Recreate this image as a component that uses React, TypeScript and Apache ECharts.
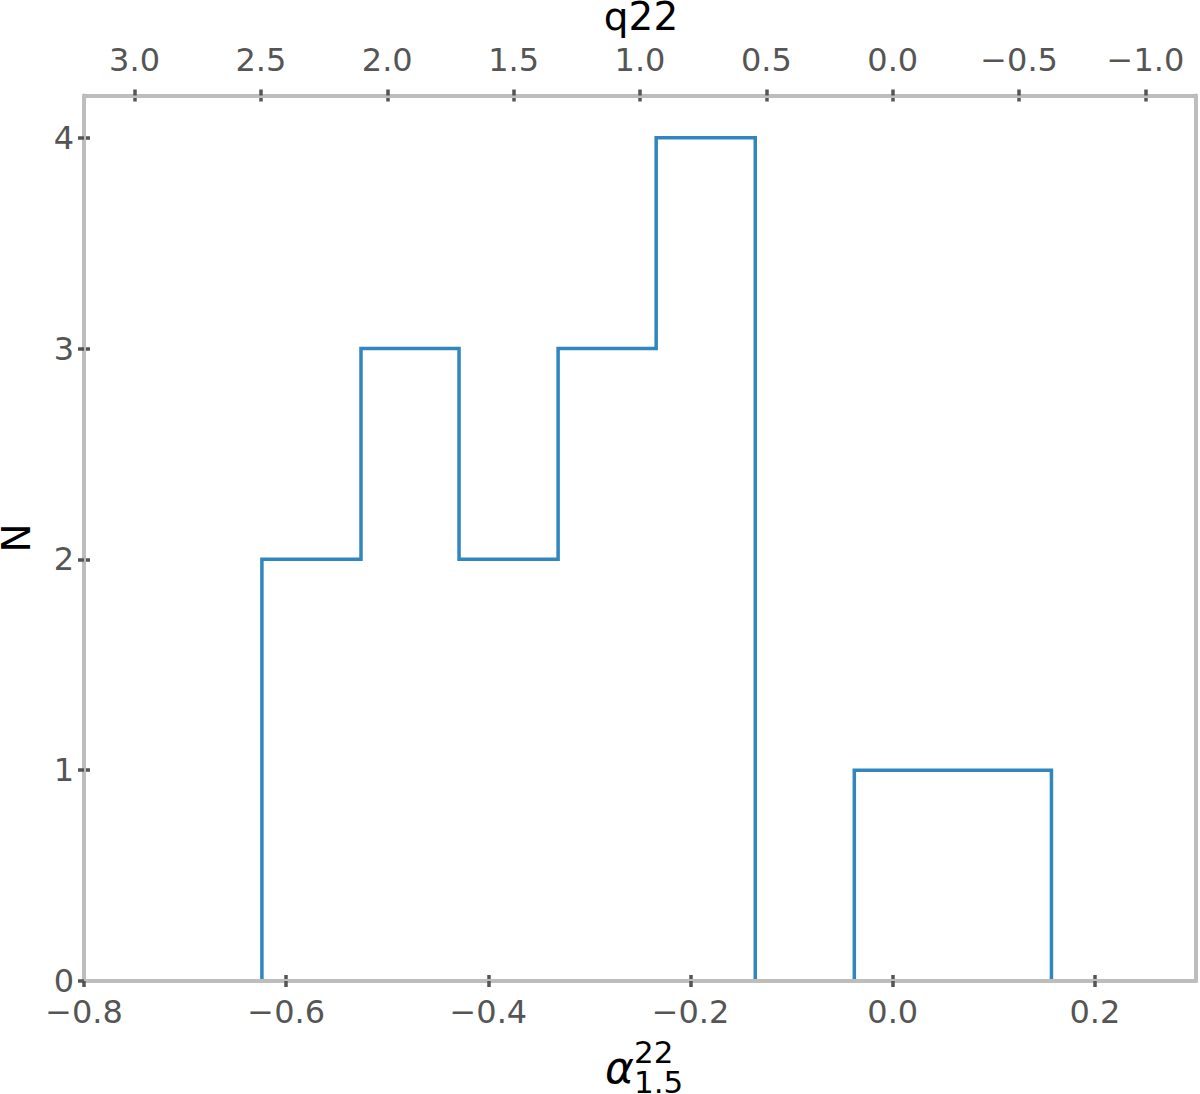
import React, { useEffect, useRef } from "react";
import * as echarts from "echarts";

// Histogram data (alpha^{22}_{1.5})
const binEdges = [-0.624, -0.526, -0.429, -0.331, -0.234, -0.136, -0.038, 0.059, 0.157];
const counts = [2, 3, 2, 3, 4, 0, 1, 1];

// Axis ticks / ranges
const alphaTicks = [-0.8, -0.6, -0.4, -0.2, 0.0, 0.2];
const qTicks = [3.0, 2.5, 2.0, 1.5, 1.0, 0.5, 0.0, -0.5, -1.0];
const nTicks = [0, 1, 2, 3, 4];
const alphaRange = [-0.8, 0.3];
const qRange = [-1.2, 3.2];
const nRange = [0, 4.2];

const FONT = "DejaVu Sans";
const FRAME = "#bdbdbd";
const TICK = "#555555";
const LABEL = "#555555";
const LINE = "#3186c0";

const fmt1 = (v: number) => {
  const s = Math.abs(v) < 1e-9 ? "0.0" : v.toFixed(1);
  return s.replace("-", "\u2212");
};

export default function App() {
  const ref = useRef<HTMLDivElement>(null);

  useEffect(() => {
    document.body.style.margin = "0";
    if (!ref.current) return;
    const chart = echarts.init(ref.current, undefined, { renderer: "svg" });

    const stepData: number[][] = [[binEdges[0], 0]];
    for (let i = 0; i < counts.length; i++) {
      stepData.push([binEdges[i + 1], counts[i]]);
    }
    stepData.push([binEdges[binEdges.length - 1], 0]);

    const labelStyle = { fontFamily: FONT, fontSize: 32, color: LABEL };
    const lineAxisLine = { show: true, onZero: false, lineStyle: { color: FRAME, width: 4 } };
    const noLine = { show: false, onZero: false };
    const tickStyle = { color: TICK, width: 3.5 };

    const option: any = {
      animation: false,
      backgroundColor: "#ffffff",
      grid: { left: 84, right: 4, top: 95.5, bottom: 113, containLabel: false },
      xAxis: [
        {
          type: "value",
          position: "bottom",
          min: alphaRange[0],
          max: alphaRange[1],
          z: 10,
          axisLine: lineAxisLine,
          axisTick: { show: true, length: 6, lineStyle: tickStyle, customValues: alphaTicks },
          axisLabel: { ...labelStyle, margin: 15, customValues: alphaTicks, formatter: (v: number) => fmt1(v) },
          splitLine: { show: false },
        },
        {
          type: "value",
          position: "bottom",
          min: alphaRange[0],
          max: alphaRange[1],
          z: 9,
          axisLine: noLine,
          axisTick: { show: true, inside: true, length: 6, lineStyle: tickStyle, customValues: alphaTicks },
          axisLabel: { show: false },
          splitLine: { show: false },
        },
        {
          type: "value",
          position: "top",
          inverse: true,
          min: qRange[0],
          max: qRange[1],
          z: 10,
          axisLine: lineAxisLine,
          axisTick: { show: true, length: 6, lineStyle: tickStyle, customValues: qTicks },
          axisLabel: { ...labelStyle, margin: 20, customValues: qTicks, formatter: (v: number) => fmt1(v) },
          splitLine: { show: false },
        },
        {
          type: "value",
          position: "top",
          inverse: true,
          min: qRange[0],
          max: qRange[1],
          z: 9,
          axisLine: noLine,
          axisTick: { show: true, inside: true, length: 6, lineStyle: tickStyle, customValues: qTicks },
          axisLabel: { show: false },
          splitLine: { show: false },
        },
      ],
      yAxis: [
        {
          type: "value",
          position: "left",
          min: nRange[0],
          max: nRange[1],
          z: 10,
          axisLine: lineAxisLine,
          axisTick: { show: true, length: 6, lineStyle: tickStyle, customValues: nTicks },
          axisLabel: { ...labelStyle, margin: 10, customValues: nTicks, formatter: (v: number) => String(Math.round(v)) },
          splitLine: { show: false },
        },
        {
          type: "value",
          position: "left",
          min: nRange[0],
          max: nRange[1],
          z: 9,
          axisLine: noLine,
          axisTick: { show: true, inside: true, length: 6, lineStyle: tickStyle, customValues: nTicks },
          axisLabel: { show: false },
          splitLine: { show: false },
        },
        {
          type: "value",
          position: "right",
          min: nRange[0],
          max: nRange[1],
          z: 10,
          axisLine: lineAxisLine,
          axisTick: { show: false },
          axisLabel: { show: false },
          splitLine: { show: false },
        },
      ],
      series: [
        {
          type: "line",
          xAxisIndex: 0,
          yAxisIndex: 0,
          step: "start",
          data: stepData,
          symbol: "none",
          showSymbol: false,
          clip: false,
          z: 2,
          lineStyle: { color: LINE, width: 3.5, join: "miter", cap: "butt" },
        },
      ],
      graphic: [
        {
          type: "text",
          x: 641,
          y: 16,
          style: { text: "q22", fontFamily: FONT, fontSize: 39, fill: "#000", align: "center", verticalAlign: "middle" },
        },
        {
          type: "text",
          x: 16,
          y: 538,
          rotation: Math.PI / 2,
          style: { text: "N", fontFamily: FONT, fontSize: 39, fill: "#000", align: "center", verticalAlign: "middle" },
        },
        {
          type: "text",
          x: 605,
          y: 1067,
          style: { text: "α", fontFamily: FONT, fontStyle: "italic", fontSize: 44, fill: "#000", align: "left", verticalAlign: "middle" },
        },
        {
          type: "text",
          x: 634,
          y: 1052,
          style: { text: "22", fontFamily: FONT, fontSize: 31, fill: "#000", align: "left", verticalAlign: "middle" },
        },
        {
          type: "text",
          x: 634,
          y: 1082,
          style: { text: "1.5", fontFamily: FONT, fontSize: 31, fill: "#000", align: "left", verticalAlign: "middle" },
        },
      ],
    };

    chart.setOption(option);
    return () => chart.dispose();
  }, []);

  return <div ref={ref} style={{ width: 1200, height: 1094 }} />;
}
